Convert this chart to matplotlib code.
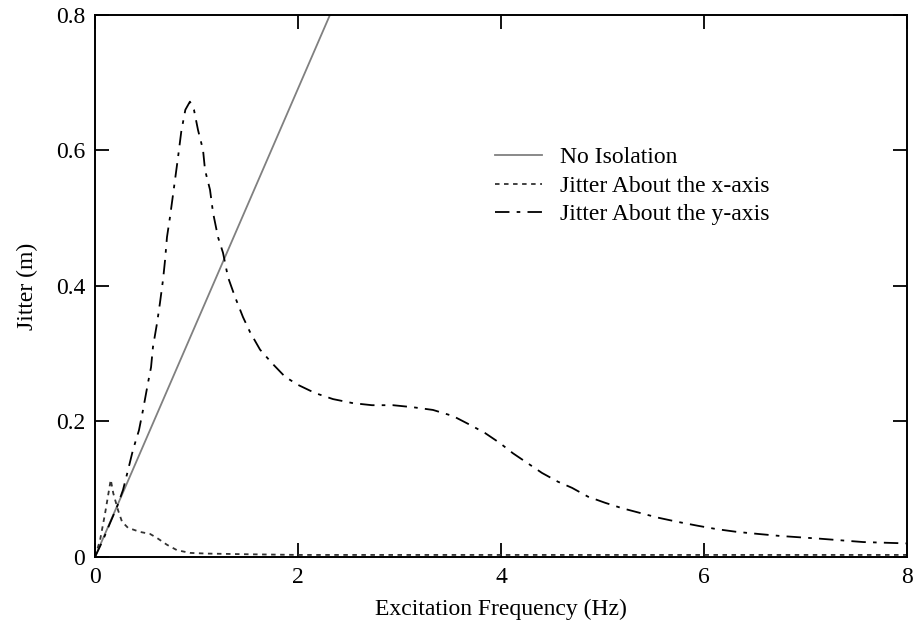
import numpy as np
import matplotlib
matplotlib.use("Agg")
import matplotlib.pyplot as plt

plt.rcParams['font.family'] = ['Liberation Serif', 'DejaVu Serif']
plt.rcParams['font.size'] = 17

# no isolation: straight line
f_none = [0.0, 8.0]
j_none = [0.0, 2.765]

# jitter about the x-axis
f_x = [0.0, 0.05, 0.10, 0.155, 0.18, 0.227, 0.266, 0.325, 0.443, 0.542, 0.611,
       0.709, 0.808, 0.936, 1.1, 1.5, 2.0, 4.0, 6.0, 8.0]
j_x = [0.0, 0.025, 0.065, 0.114, 0.094, 0.069, 0.052, 0.043, 0.037, 0.034, 0.028,
       0.018, 0.010, 0.006, 0.005, 0.004, 0.003, 0.003, 0.003, 0.003]

# jitter about the y-axis
f_y = [0.0, 0.079, 0.148, 0.217, 0.276, 0.325, 0.374, 0.433, 0.473, 0.522, 0.552,
       0.571, 0.611, 0.640, 0.670, 0.690, 0.709, 0.739, 0.768, 0.818, 0.850, 0.890,
       0.935, 0.975, 1.015, 1.064, 1.084, 1.133, 1.163, 1.212, 1.261, 1.310, 1.379,
       1.458, 1.527, 1.626, 1.744, 1.872, 2.0, 2.167, 2.345, 2.542, 2.729, 2.936,
       3.133, 3.330, 3.527, 3.695, 3.842, 3.990, 4.118, 4.286, 4.404, 4.562, 4.700,
       4.857, 5.025, 5.192, 5.369, 5.547, 5.734, 5.941, 6.128, 6.325, 6.532, 6.75,
       7.14, 7.57, 8.0]
j_y = [0.0, 0.025, 0.050, 0.074, 0.099, 0.128, 0.158, 0.187, 0.217, 0.257, 0.280,
       0.310, 0.345, 0.375, 0.409, 0.438, 0.472, 0.502, 0.534, 0.590, 0.628, 0.660,
       0.672, 0.660, 0.630, 0.601, 0.571, 0.542, 0.508, 0.472, 0.449, 0.413, 0.384,
       0.354, 0.332, 0.306, 0.286, 0.266, 0.254, 0.242, 0.233, 0.227, 0.224, 0.224,
       0.221, 0.217, 0.208, 0.195, 0.183, 0.168, 0.153, 0.136, 0.124, 0.111, 0.102,
       0.089, 0.080, 0.072, 0.065, 0.058, 0.052, 0.046, 0.041, 0.037, 0.034, 0.031,
       0.027, 0.022, 0.020]

labels = ['No Isolation', 'Jitter About the x-axis', 'Jitter About the y-axis']

fig = plt.figure(figsize=(9.18, 6.23), dpi=100)
ax = fig.add_axes([0.1035, 0.106, 0.8845, 0.870])

ax.plot(f_none, j_none, color='#808080', lw=1.3, label=labels[0])
ax.plot(f_x, j_x, color='#333333', lw=1.3, linestyle=(0, (2.5, 2.5)), label=labels[1])
ax.plot(f_y, j_y, color='black', lw=1.3, linestyle=(0, (8, 4, 2, 4)), label=labels[2])

ax.set_xlim(0, 8)
ax.set_ylim(0, 0.8)
ax.set_xticks([0, 2, 4, 6, 8])
ax.set_yticks([0, 0.2, 0.4, 0.6, 0.8])
ax.set_xticklabels(['0', '2', '4', '6', '8'])
ax.set_yticklabels(['0', '0.2', '0.4', '0.6', '0.8'])
ax.tick_params(direction='in', length=10, width=1.3, top=True, right=True, pad=7)
for s in ax.spines.values():
    s.set_linewidth(1.4)

ax.set_xlabel('Excitation Frequency (Hz)', labelpad=8)
ax.set_ylabel('Jitter (m)', labelpad=13)

ax.legend(loc='upper left', bbox_to_anchor=(0.4926, 0.757), frameon=False,
          borderpad=0, borderaxespad=0, handlelength=2.0, handletextpad=0.75,
          labelspacing=0.3)

fig.savefig('out.png', dpi=100)
